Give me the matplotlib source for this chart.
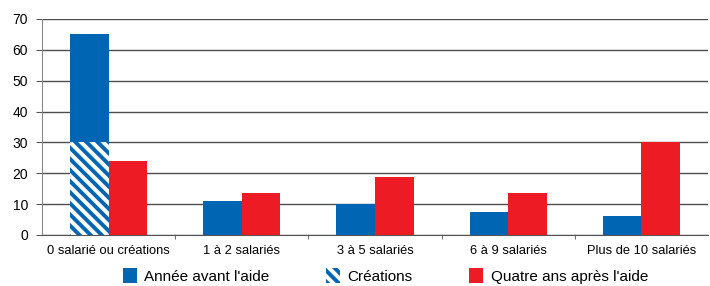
import matplotlib.pyplot as plt
import numpy as np

plt.rcParams['font.family'] = ['Liberation Sans', 'DejaVu Sans']
plt.rcParams['hatch.linewidth'] = 2.8

# Données
categories = ["0 salarié ou créations", "1 à 2 salariés", "3 à 5 salariés",
              "6 à 9 salariés", "Plus de 10 salariés"]
avant = [65, 11, 10, 7.5, 6.2]
creations = [30, 0, 0, 0, 0]
apres = [24, 13.6, 18.8, 13.6, 30]

bleu = "#0066b3"
rouge = "#ed1c24"

fig = plt.figure(figsize=(7.1, 2.86), dpi=100)
ax = fig.add_axes([42 / 710, 1 - 235 / 286, 666 / 710, 216 / 286])

x = np.arange(len(categories))
w = 0.29
ax.bar(x - w / 2, avant, w, color=bleu, label="Année avant l'aide", zorder=3)
ax.bar(x - w / 2, creations, w, color="white", edgecolor=bleu, hatch="\\\\\\",
       linewidth=0, label="Créations", zorder=4)
ax.bar(x + w / 2, apres, w, color=rouge, label="Quatre ans après l'aide", zorder=3)

ax.set_xlim(-0.5, len(categories) - 0.5)
ax.set_ylim(0, 70)
ax.set_yticks(range(0, 71, 10))
ax.yaxis.grid(True, color="#4d4d4d", linewidth=1)
ax.set_axisbelow(True)

ax.set_xticks(x)
ax.set_xticklabels(categories, fontsize=9.3)
ax.set_xticks(np.arange(0.5, len(categories) - 1, 1), minor=True)
ax.tick_params(axis="x", which="major", length=0, pad=7)
ax.tick_params(axis="x", which="minor", length=3, color="#555555")
ax.tick_params(axis="y", labelsize=10, length=4, color="#555555", pad=6)

for s in ["top", "right"]:
    ax.spines[s].set_visible(False)
ax.spines["left"].set_color("#888888")
ax.spines["bottom"].set_color("#555555")

fig.legend(loc="lower center", bbox_to_anchor=(0.543, -0.04), ncol=3, frameon=False,
           fontsize=11, handlelength=0.9, handleheight=1.2, columnspacing=3.7,
           handletextpad=0.5)

plt.savefig("out.png", dpi=100)
